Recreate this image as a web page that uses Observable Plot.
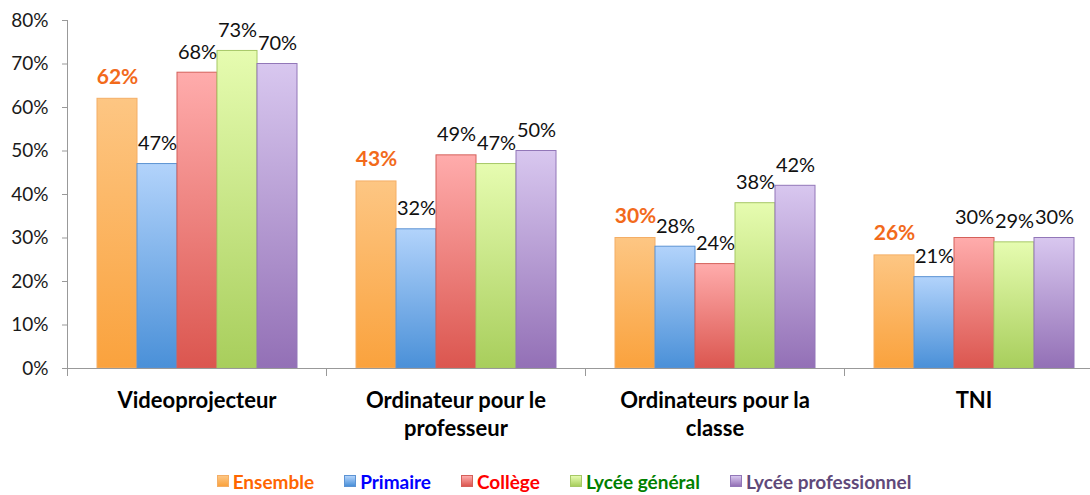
<!DOCTYPE html>
<html>
<head>
<meta charset="utf-8">
<script src="https://cdn.jsdelivr.net/npm/d3@7"></script>
<script src="https://cdn.jsdelivr.net/npm/@observablehq/plot@0.6"></script>
<style>
  html, body { margin: 0; padding: 0; background: #fff; }
  #chart { width: 1090px; }
  .legend { display: flex; justify-content: center; align-items: center; gap: 30px; height: 28px; padding-left: 38px;
    font-family: Lato, "Open Sans", sans-serif; font-weight: bold; font-size: 19px; }
  .legend .item { display: flex; align-items: center; gap: 4px; }
  .legend .sw { width: 12px; height: 12px; box-sizing: border-box; border: 1px solid; }
</style>
</head>
<body>
<svg width="0" height="0" style="position:absolute">
  <defs id="grads"></defs>
</svg>
<div id="chart"></div>
<script>
const categories = ["Videoprojecteur", "Ordinateur pour le\nprofesseur", "Ordinateurs pour la\nclasse", "TNI"];
const series = ["Ensemble", "Primaire", "Collège", "Lycée général", "Lycée professionnel"];
const ensemble = [62, 43, 30, 26];
const primaire = [47, 32, 28, 21];
const college = [68, 49, 24, 30];
const lyceeGeneral = [73, 47, 38, 29];
const lyceePro = [70, 50, 42, 30];
const values = [ensemble, primaire, college, lyceeGeneral, lyceePro];
const yTicks = [0, 10, 20, 30, 40, 50, 60, 70, 80];

const gradTop = ["#FDC683", "#B2D3FB", "#FFACAC", "#E6FCB0", "#D8C7EF"];
const gradBottom = ["#FAA23D", "#4A90D8", "#DB564F", "#A8CE5C", "#9370B6"];
const strokes = ["#F4AE66", "#5C93D3", "#D4605A", "#A6C866", "#9277B8"];
const legendText = ["#FF6600", "#0000FF", "#FF0000", "#008000", "#5F497A"];

// gradients
const defs = d3.select("#grads");
series.forEach((s, j) => {
  const g = defs.append("linearGradient").attr("id", "g" + j)
    .attr("x1", 0).attr("y1", 0).attr("x2", 0).attr("y2", 1);
  g.append("stop").attr("offset", "0%").attr("stop-color", gradTop[j]);
  g.append("stop").attr("offset", "100%").attr("stop-color", gradBottom[j]);
});

const data = categories.flatMap((c, i) => series.map((s, j) => ({category: c, series: s, value: values[j][i]})));

const svgH = 467;
const font = "Lato, 'Open Sans', sans-serif";

const chart = Plot.plot({
  width: 1090,
  height: svgH,
  marginTop: 20,
  marginBottom: svgH - 368,
  marginLeft: 67,
  marginRight: -13,
  style: {fontFamily: font, fontSize: "15px", color: "#1a1a1a", overflow: "visible", background: "#fff"},
  fx: {domain: categories, padding: 0, axis: null},
  x: {domain: series, paddingInner: 0, paddingOuter: 0.7375, axis: null},
  y: {domain: [0, 80], axis: null},
  marks: [
    Plot.axisY({ticks: yTicks, tickFormat: d => d + "%", tickSize: 5, tickPadding: 14, stroke: "#999", fontSize: 19, label: null}),
    Plot.frame({anchor: "left", facetAnchor: "left", stroke: "#999"}),
    Plot.frame({anchor: "left", stroke: "#999", insetTop: 348, insetBottom: -7}),
    ...series.map((s, j) => Plot.barY(data.filter(d => d.series === s), {
      fx: "category", x: "series", y: "value",
      fill: `url(#g${j})`, stroke: strokes[j], strokeWidth: 1
    })),
    Plot.ruleY([0], {stroke: "#999"}),
    Plot.text(data.filter(d => d.series !== "Ensemble"), {
      fx: "category", x: "series", y: "value", text: d => d.value + "%",
      lineAnchor: "bottom", dy: -14, fontSize: 20, fill: "#111"
    }),
    Plot.text(data.filter(d => d.series === "Ensemble"), {
      fx: "category", x: "series", y: "value", text: d => d.value + "%",
      lineAnchor: "bottom", dy: -15, fontSize: 21, fontWeight: "bold", fill: "#F26A1B"
    }),
    Plot.text(categories, {
      fx: d => d, text: d => d, frameAnchor: "bottom", lineAnchor: "top", dy: 20,
      fontSize: 22, fontWeight: "bold", lineHeight: 1.27, fill: "#000"
    })
  ]
});
document.getElementById("chart").append(chart);

const legend = d3.select("body").append("div").attr("class", "legend");
series.forEach((s, j) => {
  const it = legend.append("div").attr("class", "item");
  it.append("div").attr("class", "sw")
    .style("background", `linear-gradient(${gradTop[j]}, ${gradBottom[j]})`)
    .style("border-color", strokes[j]);
  it.append("span").style("color", legendText[j]).text(s);
});
</script>
</body>
</html>
